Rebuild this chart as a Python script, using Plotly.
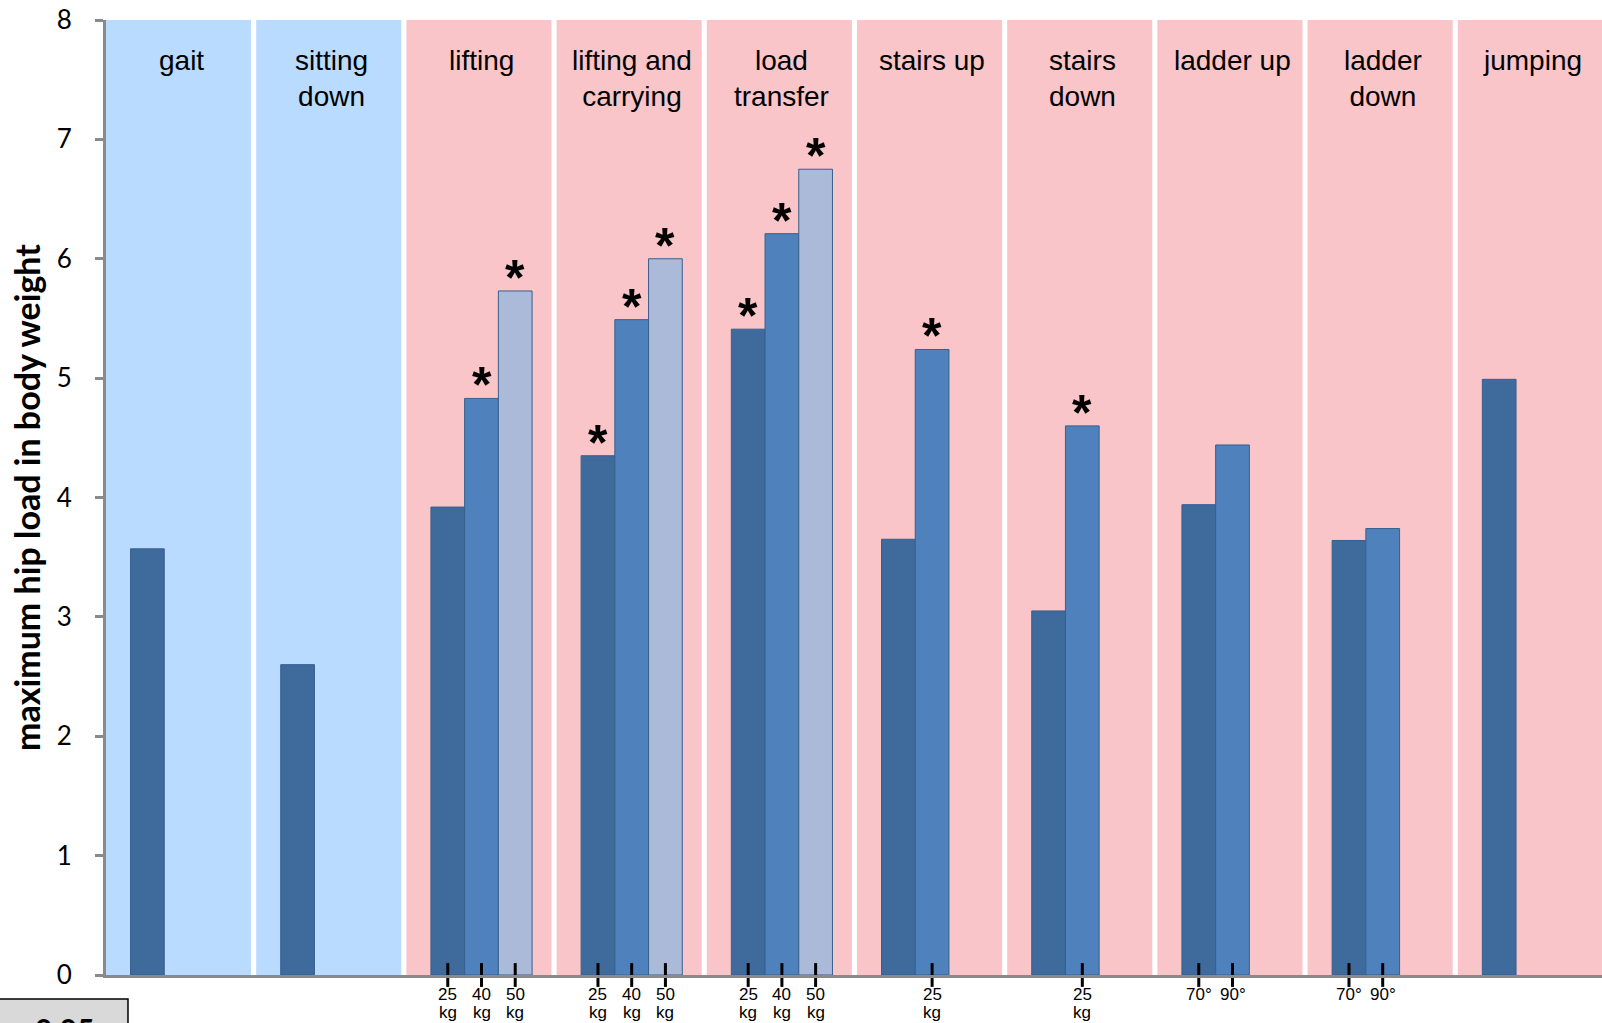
import plotly.graph_objects as go

# Activities shown as shaded panels along the x axis
activities = ["gait", "sitting<br>down", "lifting", "lifting and<br>carrying", "load<br>transfer",
              "stairs up", "stairs<br>down", "ladder up", "ladder<br>down", "jumping"]
activity_kind = ["daily", "daily", "work", "work", "work", "work", "work", "work", "work", "work"]

# Maximum hip load (in body weight) for up to three conditions per activity
load_first = [3.57, 2.60, 3.92, 4.35, 5.41, 3.65, 3.05, 3.94, 3.64, 4.99]
load_second = [None, None, 4.83, 5.49, 6.21, 5.24, 4.60, 4.44, 3.74, None]
load_third = [None, None, 5.73, 6.00, 6.75, None, None, None, None, None]

# Significance marks (1 = starred)
sig_first = [0, 0, 0, 1, 1, 0, 0, 0, 0, 0]
sig_second = [0, 0, 1, 1, 1, 1, 1, 0, 0, 0]
sig_third = [0, 0, 1, 1, 1, 0, 0, 0, 0, 0]

# Condition labels under the bars (value, unit)
cond_first = [("", ""), ("", ""), ("25", "kg"), ("25", "kg"), ("25", "kg"),
              ("", ""), ("", ""), ("70°", ""), ("70°", ""), ("", "")]
cond_second = [("", ""), ("", ""), ("40", "kg"), ("40", "kg"), ("40", "kg"),
               ("25", "kg"), ("25", "kg"), ("90°", ""), ("90°", ""), ("", "")]
cond_third = [("", ""), ("", ""), ("50", "kg"), ("50", "kg"), ("50", "kg"),
              ("", ""), ("", ""), ("", ""), ("", ""), ("", "")]

y_ticks = [0, 1, 2, 3, 4, 5, 6, 7, 8]

panel_fill = {"daily": "#b8dbff", "work": "#f9c5c8"}
bar_colors = ["#3e6a9c", "#4f81bd", "#aabad8"]
bar_outline = "#36608e"
axis_gray = "#8a8a8a"

BAR_W = 0.2245           # width of one bar in x units
GAP = 0.034              # white gap between panels

x = list(range(len(activities)))
series = [load_first, load_second, load_third]
sigs = [sig_first, sig_second, sig_third]
conds = [cond_first, cond_second, cond_third]

fig = go.Figure()

for vals, col in zip(series, bar_colors):
    fig.add_trace(go.Bar(
        x=x, y=vals, marker=dict(color=col, line=dict(color=bar_outline, width=1)),
        showlegend=False, hoverinfo="y",
    ))

annotations = []
tick_x = []
for k, (vals, sig, cond) in enumerate(zip(series, sigs, conds)):
    off = (k - 1) * BAR_W
    for i in x:
        if sig[i] and vals[i] is not None:
            annotations.append(dict(
                x=i + off, y=vals[i], xref="x", yref="y", text="<b>*</b>", showarrow=False,
                yanchor="bottom", yshift=-17,
                font=dict(family="Liberation Sans", size=50, color="black")))
        num, unit = cond[i]
        if num:
            tick_x.append(i + off)
            annotations.append(dict(
                x=i + off, y=0, xref="x", yref="y", text=num, showarrow=False,
                yanchor="top", yshift=-9, borderpad=0,
                font=dict(family="Liberation Sans", size=17, color="black")))
            if unit:
                annotations.append(dict(
                    x=i + off, y=0, xref="x", yref="y", text=unit, showarrow=False,
                    yanchor="top", yshift=-27, borderpad=0,
                    font=dict(family="Liberation Sans", size=17, color="black")))

# Condition tick marks crossing the baseline
fig.add_trace(go.Scatter(
    x=tick_x, y=[0] * len(tick_x), mode="markers", cliponaxis=False,
    marker=dict(symbol="line-ns", size=17, line=dict(width=3, color="black")),
    showlegend=False, hoverinfo="skip",
))

# Activity names at the top of each panel
for i, name in enumerate(activities):
    annotations.append(dict(
        x=i, y=1, xref="x", yref="paper", text=name, showarrow=False,
        yanchor="top", yshift=-23,
        font=dict(family="Liberation Sans", size=28, color="black")))

# Significance level box in the lower left corner
annotations.append(dict(
    x=-0.028, y=-0.036, xref="paper", yref="paper", text="<b>0.05</b>", showarrow=False,
    xanchor="center", yanchor="top",
    font=dict(family="Lato", size=30, color="black")))

shapes = []
for i, kind in enumerate(activity_kind):
    shapes.append(dict(
        type="rect", xref="x", yref="y", x0=i - 0.5, x1=i + 0.5 - GAP, y0=0, y1=8,
        fillcolor=panel_fill[kind], line=dict(width=0), layer="below"))
shapes.append(dict(
    type="rect", xref="paper", yref="paper", x0=-0.08, x1=0.0147, y0=-0.07, y1=-0.0251,
    fillcolor="#d9d9d9", line=dict(color="black", width=1.5), layer="above"))

fig.update_layout(
    width=1602, height=1023,
    margin=dict(l=106, r=0, t=20, b=48),
    paper_bgcolor="white", plot_bgcolor="white",
    barmode="group", bargap=1 - 3 * BAR_W, bargroupgap=0,
    shapes=shapes, annotations=annotations,
    xaxis=dict(range=[-0.5, 9.46], showticklabels=False, ticks="", showgrid=False,
               zeroline=False, showline=True, linecolor=axis_gray, linewidth=3),
    yaxis=dict(range=[0, 8], tickvals=y_ticks, ticks="outside", ticklen=8, tickwidth=3,
               tickcolor=axis_gray, showgrid=False, zeroline=False, showline=True,
               linecolor=axis_gray, linewidth=3, ticklabelstandoff=18,
               tickfont=dict(family="Lato", size=26, color="black"),
               title=dict(text="<b>maximum hip load in body weight</b>", standoff=6,
                          font=dict(family="Lato", size=34, color="black"))),
)

fig.write_html("out.html")
